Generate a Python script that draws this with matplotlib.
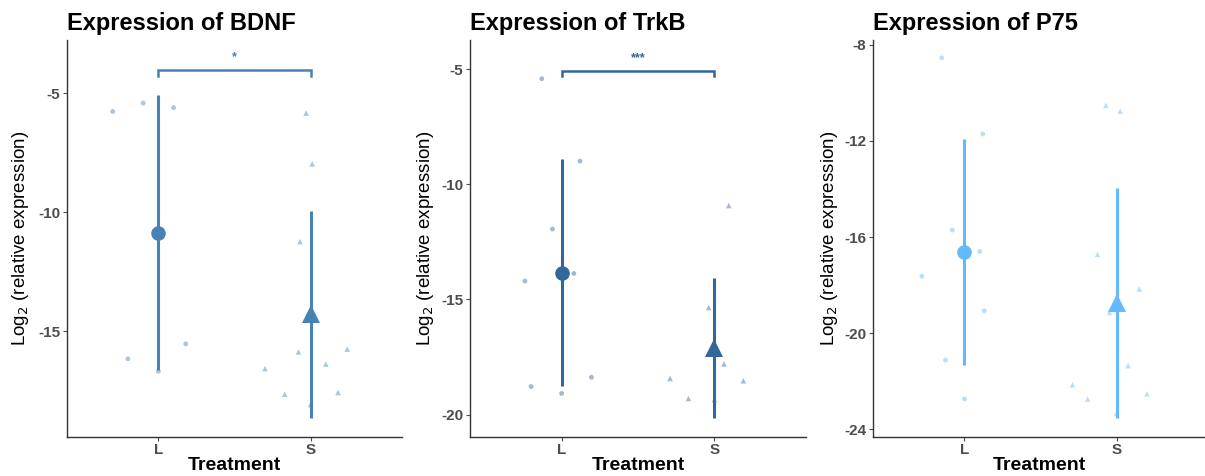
import numpy as np
import matplotlib
matplotlib.use("Agg")
import matplotlib.pyplot as plt

plt.rcParams['font.family'] = ['Liberation Sans', 'DejaVu Sans']

groups = ["L", "S"]
genes = ["BDNF", "TrkB", "P75"]

bdnf_L = [-5.76, -5.41, -5.60, -16.15, -15.52, -16.67]
bdnf_L_jit = [-0.30, -0.10, 0.10, -0.20, 0.18, 0.0]
bdnf_S = [-5.83, -7.96, -11.23, -15.86, -15.74, -16.56, -16.37, -17.63, -17.56, -18.07]
bdnf_S_jit = [-0.03, 0.01, -0.07, -0.08, 0.24, -0.30, 0.10, -0.17, 0.18, 0.0]

trkb_L = [-5.41, -8.99, -11.94, -14.20, -13.87, -18.78, -19.08, -18.38]
trkb_L_jit = [-0.13, 0.12, -0.06, -0.24, 0.08, -0.20, 0.0, 0.195]
trkb_S = [-10.92, -15.35, -17.80, -18.53, -18.43, -19.30, -19.35]
trkb_S_jit = [0.094, -0.037, 0.063, 0.19, -0.29, -0.17, 0.0]

p75_L = [-8.54, -11.71, -15.71, -16.60, -17.63, -19.07, -21.12, -22.74]
p75_L_jit = [-0.15, 0.12, -0.08, 0.10, -0.28, 0.13, -0.125, 0.0]
p75_S = [-10.52, -10.76, -16.72, -18.16, -19.14, -21.35, -22.15, -22.52, -22.74, -23.33]
p75_S_jit = [-0.07, 0.024, -0.125, 0.15, -0.046, 0.076, -0.29, 0.20, -0.19, 0.0]

signif = ["*", "***", None]
colors = ["#4682B4", "#336699", "#63B8FF"]
yticks = [[-15, -10, -5], [-20, -15, -10, -5], [-24, -20, -16, -12, -8]]
ylims = [(-19.41, -2.76), (-20.95, -3.73), (-24.30, -7.80)]
bracket_y = [-4.02, -5.06, None]

data = [(bdnf_L, bdnf_L_jit, bdnf_S, bdnf_S_jit),
        (trkb_L, trkb_L_jit, trkb_S, trkb_S_jit),
        (p75_L, p75_L_jit, p75_S, p75_S_jit)]

W, H = 1205, 476
fig = plt.figure(figsize=(W / 100, H / 100), dpi=100)

lefts = [67, 470, 873.3]
rights = [402, 806, 1205]
top_px, bot_px = 40, 436.5
xlims = [(0.4, 2.6), (0.4, 2.6), (0.4, 0.4 + (1205 - 873.3) / 152.0)]
ylab_x = [21, 425, 829]

for i in range(3):
    l, r = lefts[i], rights[i]
    ax = fig.add_axes([l / W, (H - bot_px) / H, (r - l) / W, (bot_px - top_px) / H])
    c = colors[i]
    Lv, Lj, Sv, Sj = data[i]
    # jittered raw points
    ax.scatter(1 + np.array(Lj), Lv, s=12, marker='o', color=c, alpha=0.45,
               edgecolors='none', zorder=2)
    ax.scatter(2 + np.array(Sj), Sv, s=16, marker='^', color=c, alpha=0.45,
               edgecolors='none', zorder=2)
    # mean +/- sd
    for xpos, vals, mk, ms in [(1, Lv, 'o', 10.5), (2, Sv, '^', 13)]:
        m = np.mean(vals)
        sd = np.std(vals, ddof=1)
        ax.plot([xpos, xpos], [m - sd, m + sd], color=c, lw=2.2, zorder=3,
                solid_capstyle='butt')
        ax.plot([xpos], [m], marker=mk, markersize=ms, color=c, zorder=4,
                markeredgewidth=0)
    # significance bracket
    if signif[i] is not None:
        by = bracket_y[i]
        tick = 0.25
        ax.plot([1, 1, 2, 2], [by - tick, by, by, by - tick], color=c, lw=1.8,
                zorder=3, solid_joinstyle='miter')
        ax.text(1.5, by + 0.3, signif[i], ha='center', va='bottom', color=c,
                fontsize=9, fontweight='bold')
    ax.set_xlim(*xlims[i])
    ax.set_ylim(*ylims[i])
    ax.set_xticks([1, 2])
    ax.set_xticklabels(groups)
    ax.set_yticks(yticks[i])
    ax.set_yticklabels([str(t) for t in yticks[i]])
    for lab in ax.get_xticklabels() + ax.get_yticklabels():
        lab.set_fontweight('bold')
        lab.set_color('#4D4D4D')
        lab.set_fontsize(11)
    ax.tick_params(axis='both', length=3, width=0.8, color='#4D4D4D', pad=2)
    for s in ['top', 'right']:
        ax.spines[s].set_visible(False)
    for s in ['left', 'bottom']:
        ax.spines[s].set_color('#333333')
        ax.spines[s].set_linewidth(1.0)
    ax.set_xlabel("Treatment", fontsize=14, fontweight='bold', labelpad=0)
    ax.set_title("Expression of " + genes[i], fontsize=17, fontweight='bold',
                 loc='left', pad=7)
    fig.text(ylab_x[i] / W, (H - (top_px + bot_px) / 2) / H,
             "Log$_2$ (relative expression)", rotation=90, ha='center',
             va='center', fontsize=13.5)

fig.savefig("out.png", dpi=100)
